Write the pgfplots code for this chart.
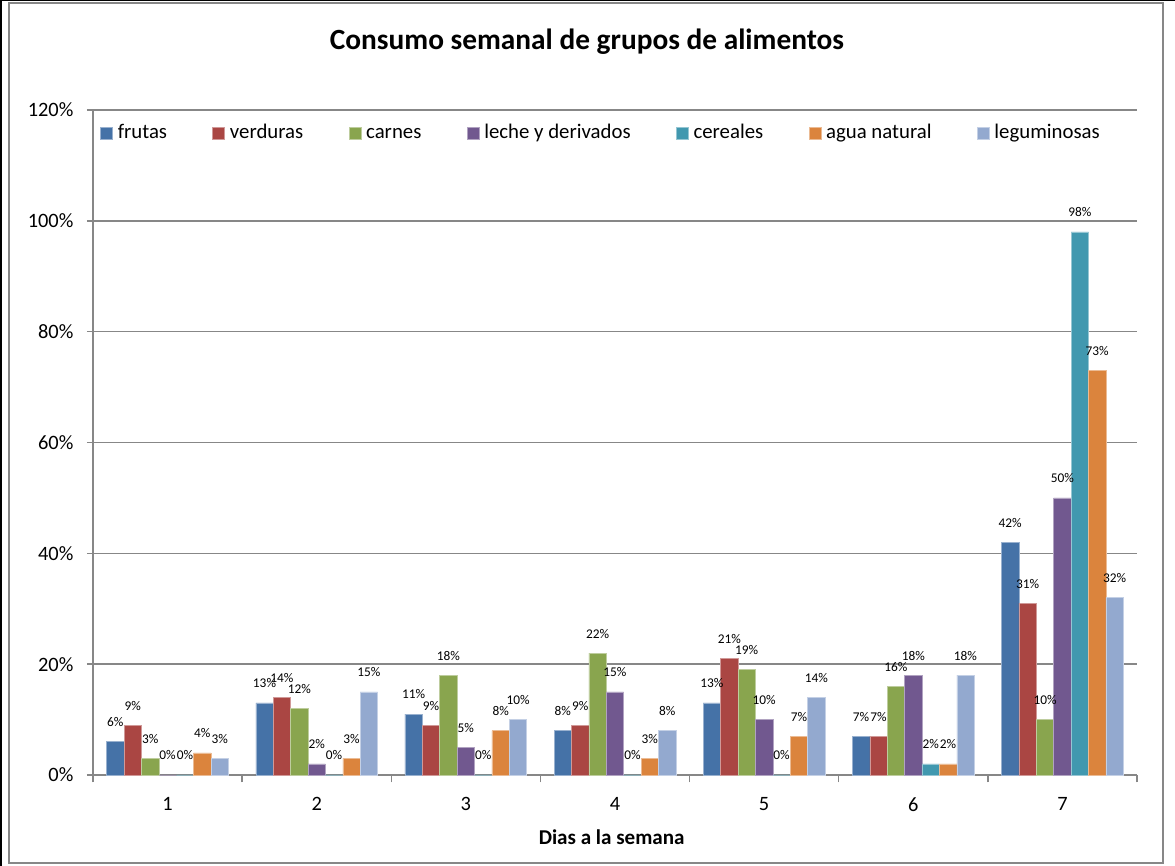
\documentclass[border=0pt]{standalone}
\usepackage{pgfplots}
\usepackage{pgfplotstable}
\pgfplotsset{compat=1.18}
\usepackage{fontspec}
\setmainfont{Carlito}

\definecolor{cFrutas}{HTML}{4572A7}
\definecolor{cVerduras}{HTML}{AA4643}
\definecolor{cCarnes}{HTML}{89A54E}
\definecolor{cLeche}{HTML}{71588F}
\definecolor{cCereales}{HTML}{4198AF}
\definecolor{cAgua}{HTML}{DB843D}
\definecolor{cLegum}{HTML}{93A9CF}
\definecolor{gridgray}{HTML}{878787}

% porcentaje de consumo por dia de la semana
\pgfplotstableread{
dia frutas verduras carnes leche cereales agua leguminosas
1   6      9        3      0     0        4    3
2   13     14       12     2     0        3    15
3   11     9        18     5     0        8    10
4   8      9        22     15    0        3    8
5   13     21       19     10    0        7    14
6   7      7        16     18    2        2    18
7   42     31       10     50    98       73   32
}\datos

\begin{document}
\begin{tikzpicture}
\begin{axis}[
  at={(0pt,0pt)}, anchor=south west,
  width=783pt, height=498.75pt, scale only axis,
  xmin=0.5, xmax=7.5, ymin=0, ymax=120,
  ybar=0pt, bar width=13.05pt,
  clip=false,
  /pgf/number format/assume math mode=true,
  xtick={1,...,7},
  minor xtick={0.5,1.5,...,7.5},
  ytick={0,20,...,120},
  yticklabel={\pgfmathprintnumber{\tick}\%},
  tick label style={font=\fontsize{15.3}{18}\selectfont},
  yticklabel style={inner sep=0pt, xshift=-10pt},
  xticklabel style={inner sep=0pt, yshift=-12pt},
  axis x line*=bottom, axis y line*=left,
  axis line style={-, draw=gridgray, line width=1.1pt},
  ymajorgrids,
  grid style={draw=gridgray, line width=1.1pt},
  tick align=outside,
  major tick length=4.5pt,
  minor tick length=5.6pt,
  tick style={draw=gridgray, line width=1.1pt},
  major x tick style={draw=none},
  nodes near coords={\pgfmathprintnumber{\pgfplotspointmeta}\%},
  every node near coord/.append style={font=\fontsize{10}{12}\selectfont,
    inner sep=0pt, anchor=south, yshift=11pt, text=black},
  legend columns=7,
  legend image code/.code={\fill[#1] (0pt,-4.5pt) rectangle (9pt,4.5pt);},
  legend style={at={(0.0067,0.9654)}, anchor=west, draw=none, fill=none,
    inner sep=0pt, font=\fontsize{15.6}{19}\selectfont,
    nodes={inner xsep=0pt, inner ysep=1pt, text height=10.5pt, text depth=3pt},
    /tikz/every odd column/.append style={column sep=3.75pt},
    /tikz/every even column/.append style={column sep=34pt}},
]
\addplot[fill=cFrutas, draw=cFrutas!55!white, line width=0.4pt] table[x=dia, y=frutas]{\datos};
\addplot[fill=cVerduras, draw=cVerduras!55!white, line width=0.4pt] table[x=dia, y=verduras]{\datos};
\addplot[fill=cCarnes, draw=cCarnes!55!white, line width=0.4pt] table[x=dia, y=carnes]{\datos};
\addplot[fill=cLeche, draw=cLeche!55!white, line width=0.4pt] table[x=dia, y=leche]{\datos};
\addplot[fill=cCereales, draw=cCereales!55!white, line width=0.4pt] table[x=dia, y=cereales]{\datos};
\addplot[fill=cAgua, draw=cAgua!55!white, line width=0.4pt] table[x=dia, y=agua]{\datos};
\addplot[fill=cLegum, draw=cLegum!55!white, line width=0.4pt] table[x=dia, y=leguminosas]{\datos};
\legend{frutas, verduras, carnes, leche y derivados, cereales, agua natural, leguminosas}
\end{axis}

% titulo y etiqueta del eje horizontal
\node[font=\fontsize{22}{26}\selectfont\bfseries] at (370.5pt,549.75pt)
  {Consumo semanal de grupos de alimentos};
\node[font=\fontsize{15.8}{19}\selectfont\bfseries] at (389pt,-46.5pt)
  {Dias a la semana};

% marco del grafico
\draw[draw=gridgray, line width=1.5pt] (-63pt,-66pt) rectangle (802.5pt,579pt);
\draw[black, line width=1.5pt] (-69pt,-68.25pt) -- (-69pt,581.25pt);
\draw[black, line width=0.75pt] (-69.75pt,580.9pt) -- (811.5pt,580.9pt);

\pgfresetboundingbox
\useasboundingbox (-69.75pt,-68.25pt) rectangle (811.5pt,581.25pt);
\end{tikzpicture}
\end{document}
